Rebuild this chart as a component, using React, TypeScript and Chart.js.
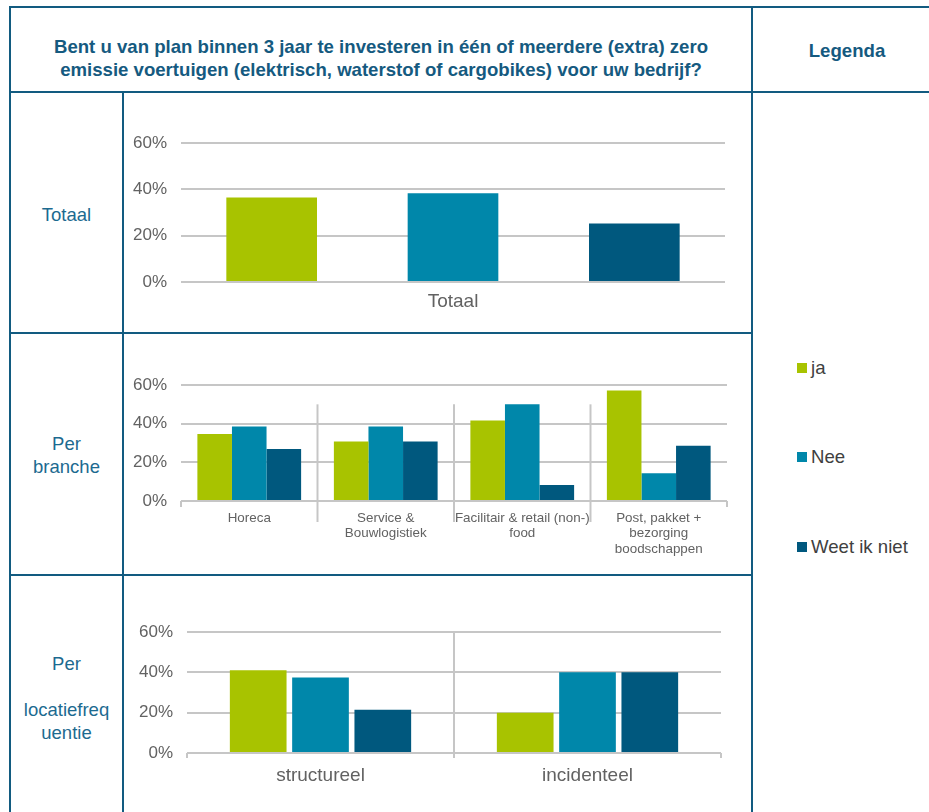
import React, { useEffect, useRef } from "react";
import { Chart, registerables } from "chart.js";

Chart.register(...registerables);

// ---------- data ----------
const seriesNames = ["ja", "Nee", "Weet ik niet"];
const seriesColors = ["#a8c300", "#0087aa", "#00587e"];

const totaalCategories = ["Totaal"];
const totaalJa = [36.5];
const totaalNee = [38.3];
const totaalWeet = [25.2];

const brancheCategories = [
  ["Horeca"],
  ["Service &", "Bouwlogistiek"],
  ["Facilitair & retail (non-)", "food"],
  ["Post, pakket +", "bezorging", "boodschappen"],
];
const brancheJa = [34.6, 30.8, 41.7, 57.1];
const brancheNee = [38.5, 38.5, 50.0, 14.3];
const brancheWeet = [26.9, 30.8, 8.3, 28.6];

const freqCategories = ["structureel", "incidenteel"];
const freqJa = [41.0, 20.0];
const freqNee = [37.5, 40.0];
const freqWeet = [21.5, 40.0];

const yMin = 0;
const yMax = 60;
const yStep = 20;

const titleLines = [
  "Bent u van plan binnen 3 jaar te investeren in één of meerdere (extra) zero",
  "emissie voertuigen (elektrisch, waterstof of cargobikes) voor uw bedrijf?",
];
const legendTitle = "Legenda";
const rowLabels = [["Totaal"], ["Per", "branche"], ["Per", "", "locatiefreq", "uentie"]];

// ---------- styling ----------
const FONT = "'Liberation Sans', Arial, Helvetica, sans-serif";
const BORDER = "#125b80";
const LABEL_COLOR = "#1c6a90";
const TITLE_COLOR = "#155a80";
const GRID = "#c6c6c6";
const TICK_COLOR = "#626262";

const separatorPlugin = {
  id: "separators",
  beforeDatasetsDraw(chart: any, _args: any, opts: any) {
    if (!opts || !opts.enabled) return;
    const xs = chart.scales.x;
    const ys = chart.scales.y;
    const ctx = chart.ctx;
    const n = chart.data.labels.length;
    const base = ys.getPixelForValue(0);
    ctx.save();
    ctx.strokeStyle = opts.color;
    ctx.lineWidth = opts.width;
    for (let i = 0; i <= n; i++) {
      let px;
      if (i === 0) px = xs.left;
      else if (i === n) px = xs.right;
      else px = (xs.getPixelForValue(i - 1) + xs.getPixelForValue(i)) / 2;
      const inner = i > 0 && i < n;
      const top = inner ? ys.getPixelForValue(opts.topValue) : base;
      const end = base + (inner ? opts.innerExt : opts.endExt);
      ctx.beginPath();
      ctx.moveTo(px, top);
      ctx.lineTo(px, end);
      ctx.stroke();
    }
    ctx.restore();
  },
};

type Rect = { left: number; top: number; width: number; height: number };
type Area = { l: number; t: number; r: number; b: number };

interface BarChartProps {
  labels: any[];
  ja: number[];
  nee: number[];
  weet: number[];
  rect: Rect;
  area: Area;
  catPct: number;
  barPct: number;
  tickFont: number;
  catFont: number;
  catLineHeight: number;
  catPad: number;
  separators: any;
}

function BarChart(p: BarChartProps) {
  const ref = useRef<HTMLCanvasElement | null>(null);
  useEffect(() => {
    if (!ref.current) return;
    const yWidth = p.area.l - p.rect.left;
    const xHeight = p.rect.top + p.rect.height - p.area.b;
    const chart = new Chart(ref.current, {
      type: "bar",
      data: {
        labels: p.labels,
        datasets: [p.ja, p.nee, p.weet].map((d, i) => ({
          label: seriesNames[i],
          data: d,
          backgroundColor: seriesColors[i],
          borderWidth: 0,
          categoryPercentage: p.catPct,
          barPercentage: p.barPct,
        })),
      },
      options: {
        animation: false,
        responsive: false,
        maintainAspectRatio: false,
        layout: {
          padding: {
            left: 0,
            top: p.area.t - p.rect.top,
            right: p.rect.left + p.rect.width - p.area.r,
            bottom: 0,
          },
        },
        plugins: {
          legend: { display: false },
          tooltip: { enabled: false },
          separators: p.separators,
        } as any,
        scales: {
          x: {
            grid: { display: false, drawTicks: false },
            border: { display: false },
            ticks: {
              autoSkip: false,
              maxRotation: 0,
              minRotation: 0,
              padding: p.catPad,
              color: TICK_COLOR,
              font: { family: FONT, size: p.catFont, lineHeight: p.catLineHeight },
            },
            afterFit: (s: any) => {
              s.height = xHeight;
            },
          },
          y: {
            min: yMin,
            max: yMax,
            grid: { color: GRID, lineWidth: 2, drawTicks: false },
            border: { display: false },
            ticks: {
              stepSize: yStep,
              padding: 14,
              color: TICK_COLOR,
              font: { family: FONT, size: p.tickFont },
              callback: (v: any) => v + "%",
            },
            afterFit: (s: any) => {
              s.width = yWidth;
            },
          },
        },
      },
      plugins: [separatorPlugin as any],
    });
    return () => chart.destroy();
  }, []);
  return (
    <canvas
      ref={ref}
      width={p.rect.width}
      height={p.rect.height}
      style={{
        position: "absolute",
        left: p.rect.left,
        top: p.rect.top,
        width: p.rect.width,
        height: p.rect.height,
      }}
    />
  );
}

function HLine({ x1, x2, y }: { x1: number; x2: number; y: number }) {
  return (
    <div
      style={{ position: "absolute", left: x1 - 1, top: y - 1, width: x2 - x1 + 2, height: 2, background: BORDER }}
    />
  );
}
function VLine({ y1, y2, x }: { y1: number; y2: number; x: number }) {
  return (
    <div
      style={{ position: "absolute", left: x - 1, top: y1 - 1, width: 2, height: y2 - y1 + 2, background: BORDER }}
    />
  );
}

export default function App() {
  const legendY = [368, 457, 547];
  const rowCenters = [214, 454.5, 698];
  const LH = 23;
  return (
    <div
      style={{
        position: "absolute",
        left: 0,
        top: 0,
        width: 929,
        height: 812,
        overflow: "hidden",
        background: "#ffffff",
        fontFamily: FONT,
      }}
    >
      {/* borders */}
      <HLine x1={10} x2={960} y={7} />
      <HLine x1={10} x2={960} y={92} />
      <HLine x1={10} x2={752} y={333} />
      <HLine x1={10} x2={752} y={574.5} />
      <VLine x={10} y1={7} y2={830} />
      <VLine x={123} y1={92} y2={830} />
      <VLine x={752} y1={7} y2={830} />

      {/* header */}
      <div
        style={{
          position: "absolute",
          left: 10,
          top: 46 - LH / 2,
          width: 742,
          textAlign: "center",
          fontWeight: "bold",
          fontSize: 18.6,
          lineHeight: LH + "px",
          color: TITLE_COLOR,
          whiteSpace: "nowrap",
        }}
      >
        {titleLines.map((t, i) => (
          <div key={i}>{t}</div>
        ))}
      </div>
      <div
        style={{
          position: "absolute",
          left: 752,
          top: 50 - LH / 2,
          width: 190,
          textAlign: "center",
          fontWeight: "bold",
          fontSize: 18.6,
          lineHeight: LH + "px",
          color: TITLE_COLOR,
        }}
      >
        {legendTitle}
      </div>

      {/* row labels */}
      {rowLabels.map((lines, i) => (
        <div
          key={i}
          style={{
            position: "absolute",
            left: 10,
            width: 113,
            top: rowCenters[i] - (lines.length * LH) / 2,
            textAlign: "center",
            fontSize: 18.5,
            lineHeight: LH + "px",
            color: LABEL_COLOR,
            whiteSpace: "nowrap",
          }}
        >
          {lines.map((l, j) => (
            <div key={j} style={{ height: LH }}>
              {l}
            </div>
          ))}
        </div>
      ))}

      {/* legend */}
      {seriesNames.map((n, i) => (
        <div
          key={n}
          style={{
            position: "absolute",
            left: 797,
            top: legendY[i] - LH / 2,
            height: LH,
            display: "flex",
            alignItems: "center",
            fontSize: 18.6,
            color: "#404040",
            whiteSpace: "nowrap",
          }}
        >
          <span
            style={{ display: "inline-block", width: 10, height: 10, background: seriesColors[i], marginRight: 4 }}
          />
          <span>{n}</span>
        </div>
      ))}

      <BarChart
        labels={totaalCategories}
        ja={totaalJa}
        nee={totaalNee}
        weet={totaalWeet}
        rect={{ left: 125, top: 96, width: 625, height: 235 }}
        area={{ l: 181, t: 143, r: 725, b: 282 }}
        catPct={1.0}
        barPct={0.5}
        tickFont={17}
        catFont={19}
        catLineHeight={1.2}
        catPad={8.6}
        separators={{ enabled: false }}
      />
      <BarChart
        labels={brancheCategories}
        ja={brancheJa}
        nee={brancheNee}
        weet={brancheWeet}
        rect={{ left: 125, top: 337, width: 625, height: 235 }}
        area={{ l: 181, t: 385, r: 727, b: 501 }}
        catPct={0.76}
        barPct={1.0}
        tickFont={17}
        catFont={13.4}
        catLineHeight={1.16}
        catPad={9.2}
        separators={{ enabled: true, color: GRID, width: 2, topValue: 50, innerExt: 21, endExt: 6 }}
      />
      <BarChart
        labels={freqCategories}
        ja={freqJa}
        nee={freqNee}
        weet={freqWeet}
        rect={{ left: 125, top: 578, width: 625, height: 234 }}
        area={{ l: 187, t: 632, r: 721, b: 753 }}
        catPct={0.7}
        barPct={0.91}
        tickFont={17}
        catFont={19}
        catLineHeight={1.2}
        catPad={11.6}
        separators={{ enabled: true, color: GRID, width: 2, topValue: 60, innerExt: 5, endExt: 5 }}
      />
    </div>
  );
}
